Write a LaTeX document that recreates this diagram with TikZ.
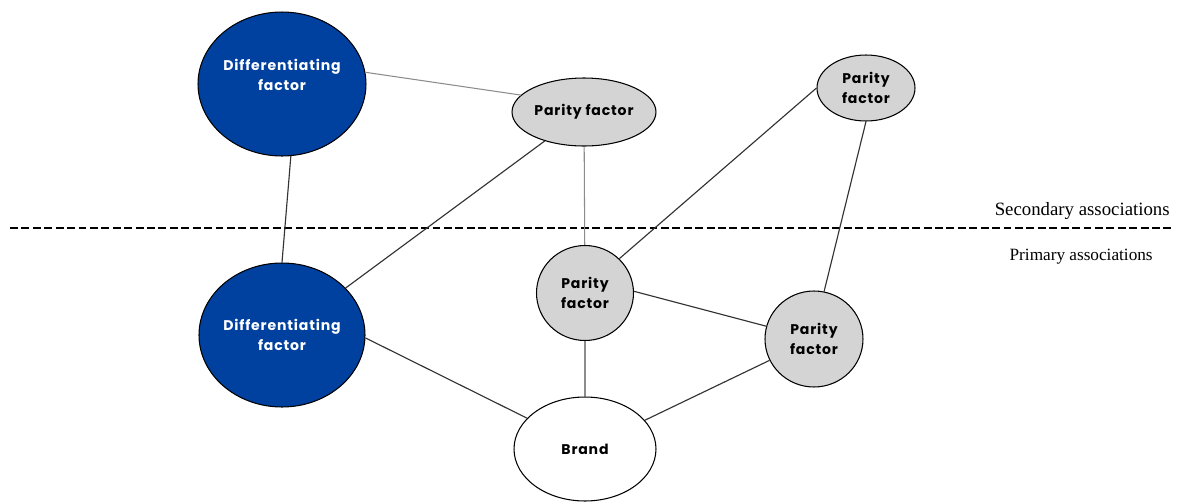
\documentclass[tikz,border=0pt]{standalone}
\usepackage{fontspec}
\setmainfont{Liberation Serif}
\newfontfamily\factorfont[LetterSpace=6]{Poppins}
\usetikzlibrary{shapes.geometric}
\definecolor{diffblue}{HTML}{0041A0}
\definecolor{parityfill}{HTML}{D4D4D4}
\begin{document}
\begin{tikzpicture}[x=0.02cm,y=-0.02cm,
  factor/.style={ellipse,draw=black,line width=0.6pt,inner sep=0pt,align=center,
    font=\factorfont\bfseries\fontsize{8}{11}\selectfont},
  diff/.style={factor,fill=diffblue,text=white},
  parity/.style={factor,fill=parityfill,text=black},
  assoc/.style={anchor=base east,inner sep=0pt},
  link/.style={draw=black!80,line width=0.65pt},
  weak/.style={draw=black!45,line width=0.6pt}]
\useasboundingbox (0,0) rectangle (1178,501);

\node[diff,minimum width=3.36cm,minimum height=2.88cm] (dtop) at (282,84) {};
\node[font=\factorfont\bfseries\fontsize{8}{11}\selectfont,text=white,align=center] (dtoptext) at (282,75) {Differentiating\\factor};
\node[parity,minimum width=2.88cm,minimum height=1.36cm] (ptop) at (584,112) {Parity factor};
\node[parity,minimum width=1.96cm,minimum height=1.32cm] (pcorner) at (866,88) {Parity\\factor};
\node[diff,minimum width=3.2cm,minimum height=2.88cm] (dbot) at (282,335) {Differentiating\\factor};
\node[parity,minimum width=1.94cm,minimum height=1.9cm] (pmid) at (585,293) {Parity\\factor};
\node[parity,minimum width=1.96cm,minimum height=1.92cm] (pright) at (814,339) {Parity\\factor};
\node[factor,fill=white,minimum width=2.84cm,minimum height=2.08cm] (brand) at (585,449) {Brand};

\draw[line width=1.4pt,dash pattern=on 4.5pt off 2pt] (10,228) -- (1172,228);
\node[assoc,font=\fontsize{10.7}{12}\selectfont] (second) at (1170,215) {Secondary associations};
\node[assoc,font=\fontsize{9.8}{12}\selectfont] (prim) at (1153,260) {Primary associations};

% secondary links
\draw[weak] (dtop.8) -- (ptop.165);
\draw[weak] (ptop) -- (pmid);
\draw[link] (dtop.-83) -- (dbot.north);
\draw[link] (dbot) -- (ptop);
\draw[link] (pmid.45) -- (pcorner.west);
\draw[link] (pcorner.south) -- (pright.78);
% primary links
\draw[link] (pmid.2) -- (pright.165);
\draw[weak] (pmid) -- (brand);
\draw[link] (dbot.-2) -- (brand.152);
\draw[link] (pright) -- (brand);
\end{tikzpicture}
\end{document}
